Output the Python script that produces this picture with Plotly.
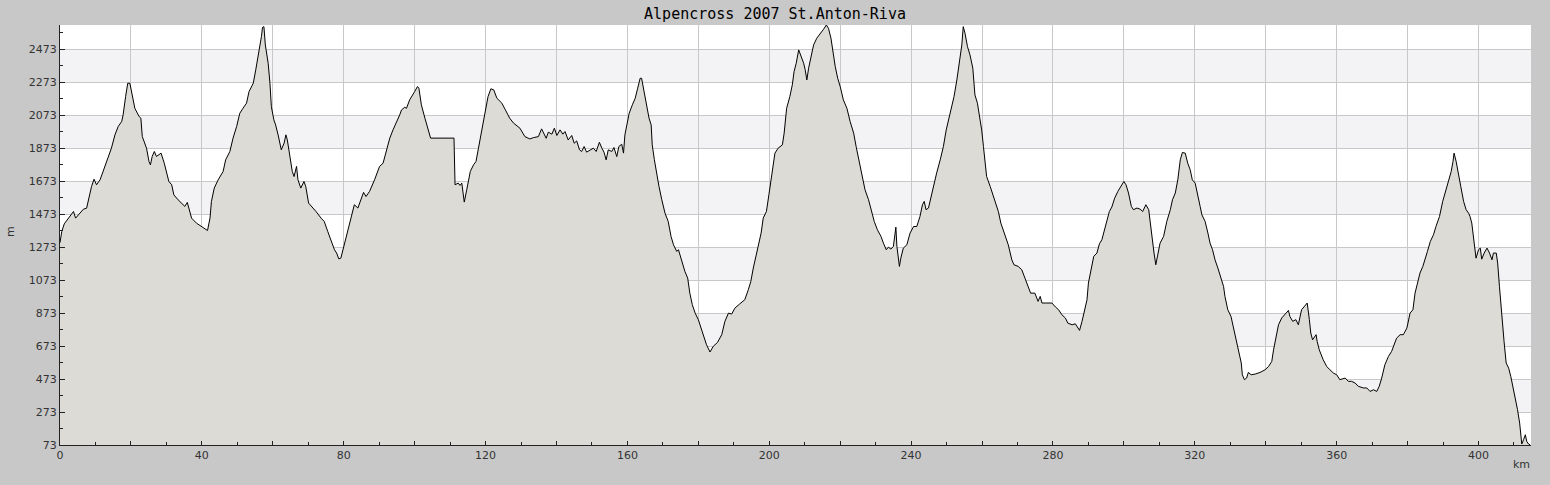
import plotly.graph_objects as go

title_text = "Alpencross 2007 St.Anton-Riva"

km = [0.0, 0.5, 1.2, 2.3, 3.8, 4.4, 5.6, 6.6, 7.5, 8.0, 8.9, 9.6, 10.3, 11.3, 13.1, 14.5, 15.5, 16.4, 17.4, 17.8,
      18.5, 19.1, 19.7, 20.4, 21.1, 22.3, 22.8, 23.2, 23.9, 24.4, 25.1, 25.5, 26.0, 26.6, 27.2, 28.5, 29.4, 30.0,
      30.7, 31.5, 32.1, 33.3, 35.2, 35.9, 36.6, 37.1, 38.5, 39.9, 40.8, 41.6, 42.3, 42.7, 43.5, 44.6, 46.0, 46.7,
      47.9, 48.8, 49.8, 50.7, 51.6, 52.6, 53.3, 54.5, 55.2, 55.9, 56.3, 56.8, 57.1, 57.5, 57.9, 58.7, 59.2, 59.6,
      60.3, 60.8, 61.5, 62.4, 63.2, 63.7, 64.1, 64.8, 65.5, 66.0, 66.7, 67.1, 67.9, 68.8,
      69.3, 70.1, 71.0, 72.2, 73.6, 74.5, 75.5, 76.4, 77.4, 78.0, 78.6, 79.2, 79.7, 80.5, 81.1, 82.1, 83.0, 84.0,
      84.9, 85.6, 86.3, 87.3, 88.7, 90.1, 91.1, 92.0, 93.0, 93.9, 94.8, 95.8, 96.3, 97.2, 97.7, 98.6, 100.0, 100.8,
      101.2, 101.9, 102.9, 103.8, 104.5, 111.1, 111.4, 112.3, 112.8, 113.3, 114.0, 114.7, 115.7, 116.6, 117.3,
      118.0, 119.0, 119.9, 120.7, 121.5, 122.3, 123.2, 124.6, 125.6, 126.8, 127.9,
      129.7, 131.1, 132.5, 133.5, 134.9, 135.8, 136.5, 137.1, 137.7, 138.7, 139.4, 140.1, 141.0, 141.8, 142.4,
      143.3, 144.3, 145.0, 145.7, 146.5, 147.1, 147.8, 148.5, 149.5, 150.4, 151.2, 152.1, 152.8, 153.4, 154.0,
      154.6, 155.6, 156.2, 157.0, 157.6, 158.4, 158.9, 159.3, 160.0,
      160.5, 161.4, 162.2, 162.9, 163.6, 164.0, 164.7, 165.4, 166.1,
      166.7, 167.0, 167.6, 168.3, 168.9, 169.7, 170.6, 171.5, 172.3, 173.0, 173.9, 174.4, 174.8, 175.5, 176.2,
      177.0, 177.6, 178.3, 179.1, 180.0, 180.8, 181.7, 182.3, 183.3, 184.2, 185.4, 186.6, 187.5, 188.5, 189.4,
      190.3, 191.7, 193.1, 194.1, 194.8, 195.5, 196.2, 196.9, 197.7, 198.3, 199.2, 199.9, 200.7, 201.6, 202.5,
      203.7, 204.2, 204.9, 205.8, 206.5, 207.0,
      207.6, 208.3, 208.9, 209.7, 210.1, 210.6, 211.1, 211.7, 212.5, 213.4, 214.6, 215.3, 216.1, 216.7, 217.4,
      217.9, 218.6, 219.3, 220.0, 220.9, 221.9, 222.8, 223.8, 224.5, 225.4, 226.1, 227.0, 228.0, 228.9, 229.6,
      230.5, 231.5, 232.2, 233.0, 233.6, 234.3, 235.0, 235.3, 235.7, 236.0, 236.4, 236.7, 237.1, 237.8, 238.8,
      239.7, 240.7, 241.6, 242.5, 243.2, 243.7, 244.2, 244.9, 245.4, 246.3, 247.2, 248.2, 249.1, 249.9, 250.8,
      251.5, 252.1, 252.9, 253.6, 254.3, 254.7, 255.2, 255.9, 256.6, 257.4, 258.0, 258.7, 259.4, 259.9, 260.4,
      260.8, 261.3, 262.3, 263.4, 264.6, 265.3, 266.2, 267.4, 268.4, 269.0, 270.2, 271.2, 272.1, 273.0, 273.7,
      274.9,
      275.8, 276.4, 276.9, 277.8, 279.7, 280.7, 281.6, 282.5, 283.5, 284.2, 285.4, 286.3, 287.0, 287.5, 288.2,
      288.9, 289.6, 290.0, 290.8, 291.5, 292.4, 293.1, 293.8, 294.6, 295.2, 295.9, 296.6, 297.4, 298.3, 299.2,
      300.0, 300.6, 301.3, 302.1, 302.7, 303.7, 304.6, 305.3, 306.2, 307.0, 307.4, 307.9, 308.5, 309.0, 309.6,
      310.2, 311.2, 312.1, 313.1, 313.7, 314.5, 315.2, 315.9, 316.5, 317.3, 318.0, 318.7, 319.3, 320.1, 320.8,
      321.5, 322.0, 322.9, 323.7, 324.3, 325.0, 325.7, 326.5, 327.4, 328.1, 328.5, 329.3, 330.2, 330.9, 331.8,
      332.5, 333.1, 333.4, 334.0, 334.6, 335.1, 335.9, 337.0, 338.4, 339.8, 340.8, 341.7, 342.2, 342.8, 343.6,
      344.5, 345.3,
      346.4, 346.8, 347.6, 348.5, 349.2, 350.1, 351.1, 351.7, 352.3, 352.7, 353.2, 354.2, 354.5, 355.1, 356.2,
      357.2, 358.1, 359.1, 360.0, 360.9, 362.4, 363.3, 364.2, 365.2, 366.1, 367.5, 368.5, 369.4, 370.4, 371.3,
      372.0, 372.7, 373.6, 374.6, 375.5, 376.2, 376.9, 377.9, 378.8, 379.8, 380.7, 381.5, 382.1, 382.8, 383.5,
      384.3, 384.9, 385.6, 386.4, 387.3, 388.0, 389.0, 389.9, 390.8, 391.5, 392.3, 392.8, 393.1, 393.7, 394.4,
      395.0, 395.8, 396.5, 397.2, 397.6, 398.1, 398.6, 399.3, 400.0, 400.5, 400.9, 401.6, 402.4, 403.1, 403.8,
      404.2, 405.0, 405.4, 405.9, 406.6, 407.2, 407.8, 408.5, 409.1, 409.7, 410.4, 411.0, 411.6, 412.0, 412.2,
      412.7, 413.2, 413.6, 414.1, 414.6]

elev = [1300, 1368, 1414, 1449, 1489, 1449, 1479, 1503, 1509, 1560, 1641, 1685, 1651, 1681, 1782, 1873, 1954, 2004, 2035, 2075,
        2186, 2267, 2267, 2186, 2115, 2065, 2055, 1944, 1903, 1873, 1792, 1772, 1823, 1853, 1823, 1843, 1782, 1732,
        1671, 1651, 1590, 1560, 1520, 1544, 1489, 1449, 1418, 1398, 1382, 1374, 1449, 1550, 1631, 1681, 1732, 1802,
        1853, 1934, 2004, 2085, 2115, 2146, 2216, 2267, 2348, 2429, 2479, 2550, 2606, 2610, 2499, 2388, 2267, 2125,
        2045, 2014, 1954, 1863, 1904, 1954, 1923, 1823, 1732, 1701, 1762, 1681, 1631, 1671,
        1641, 1540, 1520, 1489, 1449, 1429, 1368, 1318, 1257, 1237, 1202, 1206, 1247, 1318, 1378, 1459, 1530, 1510,
        1560, 1605, 1580, 1611, 1681, 1762, 1782, 1853, 1934, 1984, 2025, 2075, 2105, 2121, 2115, 2166, 2216, 2247,
        2237, 2136, 2055, 1984, 1934, 1934, 1651, 1661, 1647, 1661, 1546, 1621, 1732, 1772, 1792,
        1873, 1994, 2105, 2186, 2233, 2227, 2176, 2146, 2105, 2055, 2025,
        1994, 1943, 1929, 1937, 1943, 1990, 1964, 1933, 1970, 1958, 1994, 1950, 1984, 1958, 1974,
        1923, 1950, 1903, 1917, 1863, 1853, 1883, 1849, 1863, 1873, 1853, 1909, 1873, 1849, 1802,
        1863, 1853, 1877, 1822, 1883, 1897, 1843, 1954, 2025,
        2085, 2136, 2176, 2237, 2297, 2297, 2216, 2125, 2055,
        2014, 1893, 1803, 1712, 1641, 1560, 1479, 1429, 1338, 1287, 1247, 1257, 1227, 1176, 1126,
        1085, 994, 924, 873, 833, 782, 732, 681, 637, 671, 695, 742, 823, 873, 867,
        903, 929, 954, 1015, 1065, 1146, 1217, 1277, 1358, 1449, 1489, 1590, 1701, 1843, 1873,
        1893, 1964, 2115, 2186, 2257, 2338,
        2388, 2469, 2439, 2388, 2352, 2287, 2358, 2418, 2499, 2540, 2570, 2594, 2620, 2600, 2540,
        2459, 2368, 2297, 2247, 2166, 2115, 2035, 1964, 1883, 1792, 1722, 1621, 1560, 1479, 1429,
        1378, 1338, 1297, 1257, 1273, 1261, 1277, 1318, 1394, 1277, 1196, 1156, 1206, 1267, 1287,
        1358, 1398, 1398, 1459, 1530, 1550, 1500, 1510, 1560, 1641, 1722, 1802, 1883, 1984, 2065,
        2115, 2186, 2287, 2408, 2499, 2610, 2570, 2489, 2439, 2358, 2196, 2146, 2065, 1984, 1883,
        1782, 1701, 1641, 1570, 1489, 1419, 1358, 1287, 1196, 1166, 1156, 1136, 1085, 1035, 994,
        994,
        944, 974, 934, 934, 934, 910, 893, 863, 843, 812, 802, 808, 782, 768, 823,
        883, 954, 1055, 1146, 1217, 1237, 1293, 1318, 1378, 1439, 1489, 1516, 1570, 1611, 1641,
        1671, 1651, 1601, 1520, 1500, 1510, 1503, 1489, 1530, 1500, 1419, 1338, 1237, 1166, 1237,
        1297, 1338, 1429, 1500, 1560, 1601, 1681, 1802, 1847, 1843, 1782, 1742, 1681, 1661, 1580,
        1520, 1469, 1429, 1358, 1297, 1257, 1196, 1146, 1085, 1035, 974, 893, 853, 782, 691,
        631, 570, 499, 469, 479, 513, 499, 503, 513, 529, 549, 580, 650, 711, 802,
        843, 863,
        889, 853, 823, 833, 802, 893, 923, 934, 833, 752, 711, 742, 701, 650, 590,
        549, 529, 509, 499, 469, 479, 459, 459, 449, 429, 419, 419, 398, 408, 398,
        429, 479, 560, 610, 641, 681, 721, 742, 742, 782, 873, 893, 994, 1055, 1116,
        1156, 1206, 1247, 1307, 1348, 1398, 1459, 1550, 1621, 1681, 1732, 1792, 1843, 1792, 1722,
        1641, 1550, 1500, 1479, 1459, 1419, 1338, 1206, 1257, 1267, 1200, 1237, 1267, 1237, 1196,
        1237, 1237, 1176, 1035, 833, 701, 570, 539, 489, 429, 348, 287, 206, 125, 79,
        105, 135, 95, 79, 73]

assert len(km) == len(elev)

y_ticks = [73, 273, 473, 673, 873, 1073, 1273, 1473, 1673, 1873, 2073, 2273, 2473]
y_labels = [str(v) for v in y_ticks]
y_minor = [173, 373, 573, 773, 973, 1173, 1373, 1573, 1773, 1973, 2173, 2373, 2573]
x_ticks = list(range(0, 420, 20))
x_labels = [str(v) if v % 40 == 0 else "" for v in x_ticks]
x_minor = list(range(10, 420, 20))
band_starts = [273, 673, 1073, 1473, 1873, 2273]

fig = go.Figure()
fig.add_trace(go.Scatter(
    x=km, y=elev, mode="lines", fill="tozeroy",
    line=dict(color="#000000", width=1),
    fillcolor="#DCDBD6", hoverinfo="skip", showlegend=False,
))

shapes = []
for b in band_starts:
    shapes.append(dict(type="rect", xref="paper", yref="y", x0=0, x1=1, y0=b, y1=b + 200,
                       fillcolor="#F3F2F5", line=dict(width=0), layer="below"))

axis_font = dict(family="DejaVu Sans", size=11, color="#333333")
fig.update_layout(
    width=1550, height=485,
    margin=dict(l=60, r=19, t=25, b=40),
    paper_bgcolor="#C8C8C8", plot_bgcolor="#FFFFFF",
    shapes=shapes,
    showlegend=False,
    hovermode=False,
    title=dict(text=title_text, x=0.5, xanchor="center", y=1 - 14 / 485, yanchor="middle",
               font=dict(family="DejaVu Sans Mono", size=15, color="#000000")),
    xaxis=dict(range=[0, 414.8], tickmode="array", tickvals=x_ticks, ticktext=x_labels,
               ticks="inside", ticklen=4, tickcolor="#222222", tickfont=axis_font,
               showgrid=True, gridcolor="#C8C8C8", gridwidth=1, zeroline=False,
               showline=True, linecolor="#222222", linewidth=1,
               minor=dict(tickmode="array", tickvals=x_minor, ticks="inside", ticklen=3,
                          tickcolor="#222222", showgrid=False)),
    yaxis=dict(range=[73, 2620], tickmode="array", tickvals=y_ticks, ticktext=y_labels,
               ticks="inside", ticklen=5, tickcolor="#222222", tickfont=axis_font,
               showgrid=True, gridcolor="#C8C8C8", gridwidth=1, zeroline=False,
               showline=True, linecolor="#222222", linewidth=1,
               minor=dict(tickmode="array", tickvals=y_minor, ticks="inside", ticklen=3,
                          tickcolor="#222222", showgrid=False)),
    annotations=[
        dict(text="m", xref="paper", yref="paper", x=(10 - 60) / 1471, y=(445 - 232) / 420,
             showarrow=False, textangle=-90, font=axis_font, xanchor="center", yanchor="middle"),
        dict(text="km", xref="paper", yref="paper", x=(1521 - 60) / 1471, y=(445 - 464) / 420,
             showarrow=False, font=axis_font, xanchor="center", yanchor="middle"),
    ],
)

fig.write_html("out.html", config={"displayModeBar": False},
               post_script="document.body.style.margin='0';document.body.style.background='#C8C8C8';")
